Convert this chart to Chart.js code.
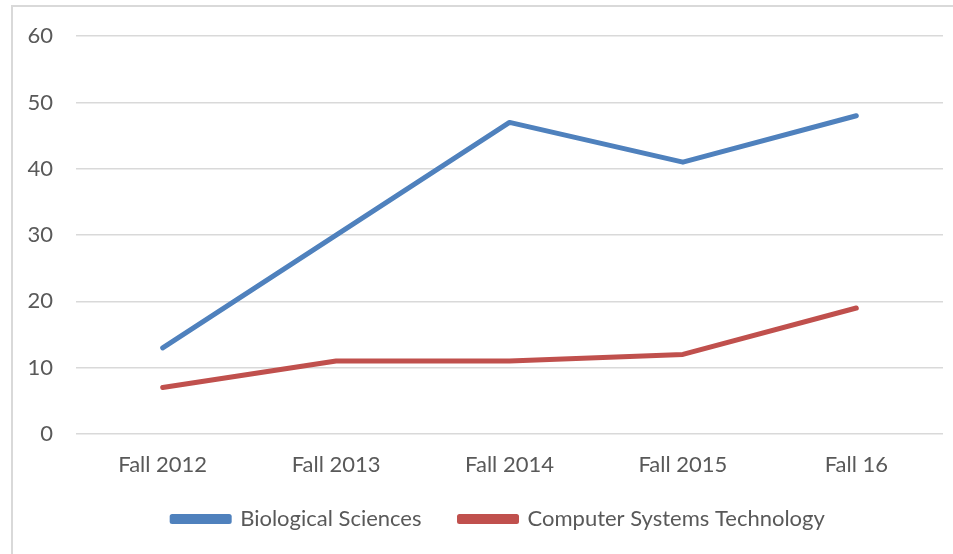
<!DOCTYPE html>
<html>
<head>
<meta charset="utf-8">
<script src="https://cdn.jsdelivr.net/npm/chart.js@4"></script>
<style>
  html, body { margin: 0; padding: 0; background: #fff; }
  #wrap { width: 953px; height: 554px; }
</style>
</head>
<body>
<div id="wrap"><canvas id="termChart" width="953" height="554"></canvas></div>
<script>
// chart data
const terms = ["Fall 2012", "Fall 2013", "Fall 2014", "Fall 2015", "Fall 16"];
const bioSciences = [13, 30, 47, 41, 48];
const compSysTech = [7, 11, 11, 12, 19];

const textColor = "#595959";
const gridColor = "#d9d9d9";
const fontFamily = "Lato, 'Open Sans', sans-serif";
const fontSize = 22;

// light frame around the chart, like the office chart border
const frame = {
  id: "frame",
  beforeDraw(chart) {
    const c = chart.ctx;
    c.save();
    c.strokeStyle = gridColor;
    c.lineWidth = 2;
    c.strokeRect(12, 6, 1200, 1200);
    c.restore();
  },
  // legend sits centred under the plot, a bit higher than its box
  afterLayout(chart) {
    const lg = chart.legend;
    lg.left += 27;
    lg.right += 27;
    lg.top -= 9;
    lg.bottom -= 9;
  },
};

const ctx = document.getElementById("termChart").getContext("2d");

new Chart(ctx, {
  type: "line",
  data: {
    labels: terms,
    datasets: [
      {
        label: "Biological Sciences",
        data: bioSciences,
        borderColor: "#4f81bd",
        backgroundColor: "#4f81bd",
        borderWidth: 5,
        pointRadius: 0,
        tension: 0,
        borderJoinStyle: "round",
        borderCapStyle: "round",
      },
      {
        label: "Computer Systems Technology",
        data: compSysTech,
        borderColor: "#c0504d",
        backgroundColor: "#c0504d",
        borderWidth: 5,
        pointRadius: 0,
        tension: 0,
        borderJoinStyle: "round",
        borderCapStyle: "round",
      },
    ],
  },
  options: {
    responsive: false,
    animation: false,
    layout: {
      padding: { left: 0, right: 10, top: 36, bottom: 5 },
    },
    plugins: {
      tooltip: { enabled: false },
      legend: {
        position: "bottom",
        labels: {
          color: textColor,
          font: { family: fontFamily, size: fontSize },
          boxWidth: 57,
          boxHeight: 5,
          padding: 38,
        },
      },
    },
    scales: {
      x: {
        offset: true,
        grid: { display: false, drawTicks: false },
        border: { display: false },
        ticks: {
          color: textColor,
          font: { family: fontFamily, size: fontSize },
          padding: 18,
          maxRotation: 0,
        },
        afterFit: (s) => { s.height = 45; },
      },
      y: {
        min: 0,
        max: 60,
        grid: { color: gridColor, lineWidth: 1.5, drawTicks: false },
        border: { display: false },
        ticks: {
          stepSize: 10,
          color: textColor,
          font: { family: fontFamily, size: fontSize },
          padding: 23,
        },
        afterFit: (s) => { s.width = 76; },
      },
    },
  },
  plugins: [frame],
});
</script>
</body>
</html>
